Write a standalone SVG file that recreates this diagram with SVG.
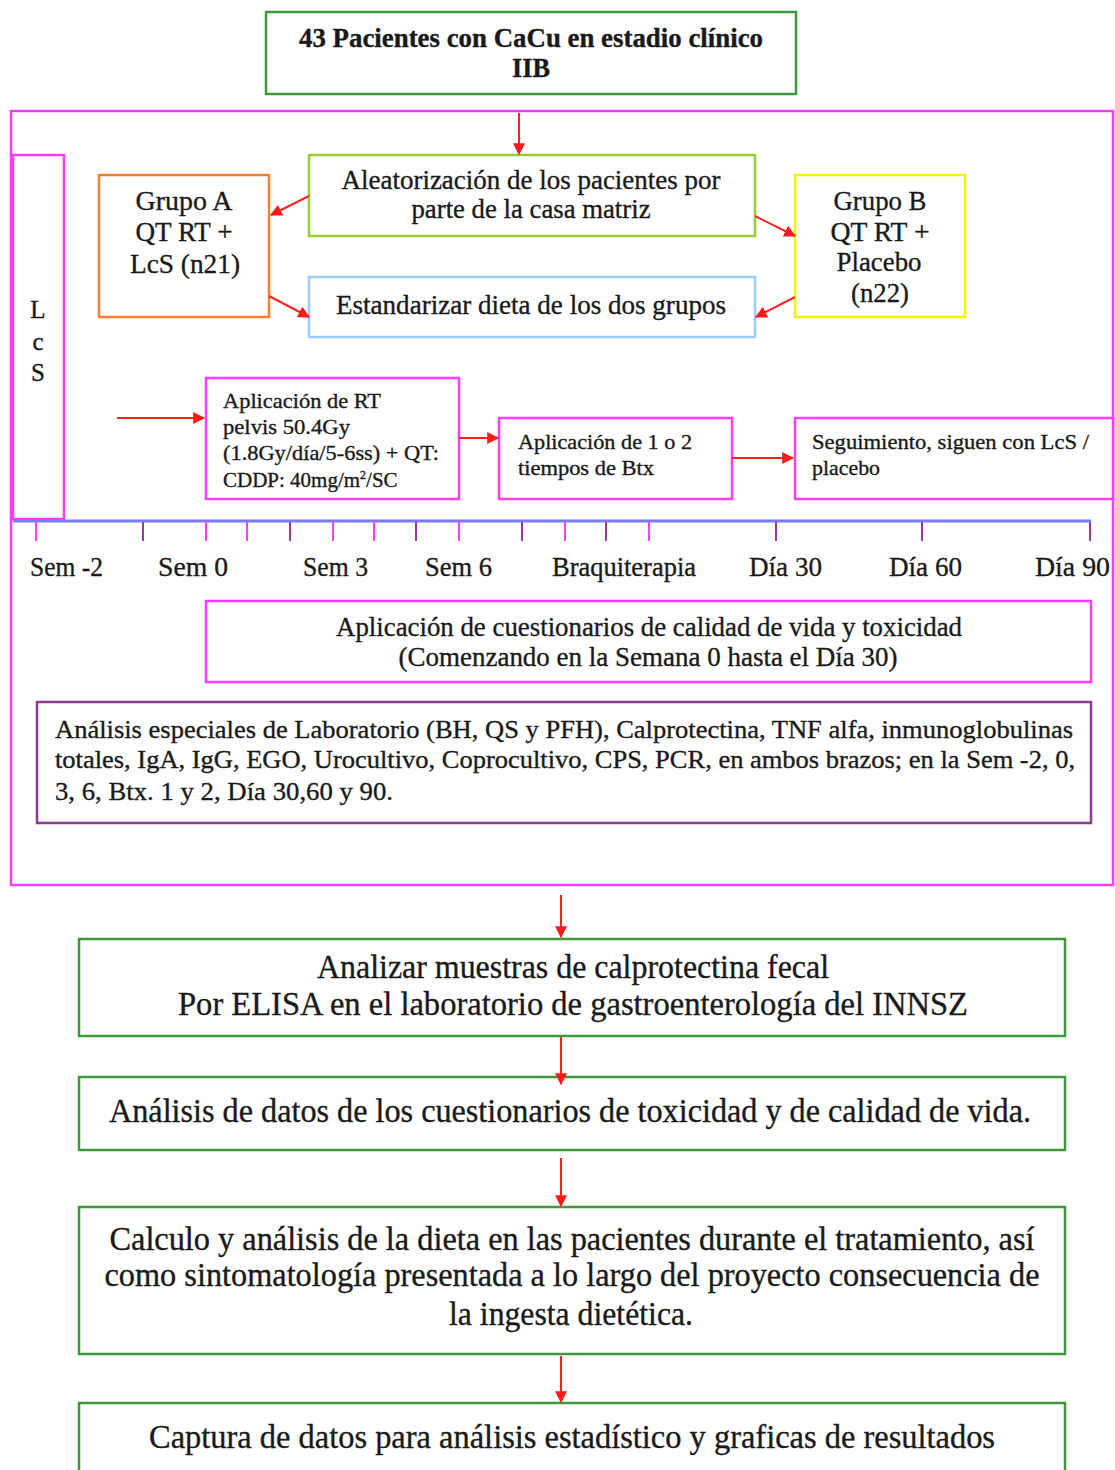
<svg xmlns="http://www.w3.org/2000/svg" width="1115" height="1470" viewBox="0 0 1115 1470">
<style>
text{font-family:"Liberation Serif","Times New Roman",serif;fill:#1a1a1a;stroke:#1a1a1a;stroke-width:0.35}
.box{fill:#fff;stroke-width:2.5}
.g{stroke:#3c9a3c}
.m{stroke:#ff3cff}
.c{text-anchor:middle}
.conn line{stroke:#ff2020;stroke-width:2;marker-end:url(#ah)}
.tm{stroke:#ff3cff;stroke-width:2}
.tp{stroke:#9a3c9a;stroke-width:2}
</style>
<defs>
<marker id="ah" viewBox="0 0 10 10" refX="9" refY="5" markerWidth="6" markerHeight="6" orient="auto" markerUnits="strokeWidth">
<path d="M0,0 L10,5 L0,10 z" fill="#ff1a1a"/>
</marker>
</defs>
<rect width="1115" height="1470" fill="#fff"/>

<g id="frame">
<rect x="11" y="111" width="1102" height="774" fill="none" stroke="#ff3cff" stroke-width="2.5"/>
</g>

<g id="n-top">
<rect class="box g" x="266" y="12" width="530" height="82"/>
<text class="c" x="531" y="47" font-size="27" font-weight="bold" textLength="464" lengthAdjust="spacingAndGlyphs">43 Pacientes con CaCu en estadio clínico</text>
<text class="c" x="531" y="77" font-size="27" font-weight="bold" textLength="38" lengthAdjust="spacingAndGlyphs">IIB</text>
</g>

<g id="n-lcs">
<rect class="box m" x="13" y="155" width="51" height="364"/>
<text class="c" x="38" y="318" font-size="25">L</text>
<text class="c" x="38" y="350" font-size="25">c</text>
<text class="c" x="38" y="381" font-size="25">S</text>
</g>

<g id="n-aleat">
<rect class="box" stroke="#99cc33" x="309" y="155" width="446" height="81"/>
<text class="c" x="531" y="189" font-size="27" textLength="379" lengthAdjust="spacingAndGlyphs">Aleatorización  de los pacientes  por</text>
<text class="c" x="531" y="218" font-size="27" textLength="239" lengthAdjust="spacingAndGlyphs">parte de la casa matriz</text>
</g>

<g id="n-grupoA">
<rect class="box" stroke="#ff7f2a" x="99" y="175" width="170" height="142"/>
<text class="c" x="184" y="210" font-size="28" textLength="97" lengthAdjust="spacingAndGlyphs">Grupo A</text>
<text class="c" x="184" y="241" font-size="28" textLength="97" lengthAdjust="spacingAndGlyphs">QT RT +</text>
<text class="c" x="185" y="273" font-size="28" textLength="110" lengthAdjust="spacingAndGlyphs">LcS (n21)</text>
</g>

<g id="n-grupoB">
<rect class="box" stroke="#f5f500" x="795" y="175" width="170" height="142"/>
<text class="c" x="880" y="210" font-size="28" textLength="93" lengthAdjust="spacingAndGlyphs">Grupo B</text>
<text class="c" x="880" y="241" font-size="28" textLength="99" lengthAdjust="spacingAndGlyphs">QT RT +</text>
<text class="c" x="879" y="271" font-size="28" textLength="85" lengthAdjust="spacingAndGlyphs">Placebo</text>
<text class="c" x="880" y="302" font-size="28" textLength="58" lengthAdjust="spacingAndGlyphs">(n22)</text>
</g>

<g id="n-estand">
<rect class="box" stroke="#99ccff" x="309" y="277" width="446" height="60"/>
<text class="c" x="531" y="314" font-size="27" textLength="390" lengthAdjust="spacingAndGlyphs">Estandarizar dieta de los dos grupos</text>
</g>

<g id="n-rt">
<rect class="box m" x="206" y="378" width="253" height="121"/>
<text x="223" y="408" font-size="21" textLength="158" lengthAdjust="spacingAndGlyphs">Aplicación de RT</text>
<text x="223" y="434" font-size="21" textLength="127" lengthAdjust="spacingAndGlyphs">pelvis 50.4Gy</text>
<text x="223" y="460" font-size="21" textLength="216" lengthAdjust="spacingAndGlyphs">(1.8Gy/día/5-6ss) + QT:</text>
<text x="223" y="487" font-size="21">CDDP: 40mg/m<tspan font-size="12" dy="-8">2</tspan><tspan dy="8">/SC</tspan></text>
</g>

<g id="n-btx">
<rect class="box m" x="499" y="418" width="233" height="81"/>
<text x="518" y="449" font-size="21" textLength="174" lengthAdjust="spacingAndGlyphs">Aplicación de 1  o 2</text>
<text x="518" y="475" font-size="21" textLength="136" lengthAdjust="spacingAndGlyphs">tiempos de Btx</text>
</g>

<g id="n-seguim">
<rect class="box m" x="795" y="418" width="318" height="81"/>
<text x="812" y="449" font-size="21" textLength="277" lengthAdjust="spacingAndGlyphs">Seguimiento, siguen con LcS /</text>
<text x="812" y="475" font-size="21" textLength="68" lengthAdjust="spacingAndGlyphs">placebo</text>
</g>

<g id="timeline">
<line x1="13" y1="521" x2="1091" y2="521" stroke="#7b7bff" stroke-width="3"/>
<line class="tm" x1="36" y1="522" x2="36" y2="541"/>
<line class="tp" x1="143" y1="522" x2="143" y2="541"/>
<line class="tm" x1="206" y1="522" x2="206" y2="541"/>
<line class="tm" x1="247" y1="522" x2="247" y2="541"/>
<line class="tp" x1="290" y1="522" x2="290" y2="541"/>
<line class="tm" x1="333" y1="522" x2="333" y2="541"/>
<line class="tm" x1="374" y1="522" x2="374" y2="541"/>
<line class="tp" x1="416" y1="522" x2="416" y2="541"/>
<line class="tm" x1="459" y1="522" x2="459" y2="541"/>
<line class="tp" x1="522" y1="522" x2="522" y2="541"/>
<line class="tm" x1="565" y1="522" x2="565" y2="541"/>
<line class="tp" x1="606" y1="522" x2="606" y2="541"/>
<line class="tm" x1="649" y1="522" x2="649" y2="541"/>
<line class="tp" x1="776" y1="522" x2="776" y2="541"/>
<line class="tp" x1="922" y1="522" x2="922" y2="541"/>
<line class="tp" x1="1090" y1="522" x2="1090" y2="541"/>
<text x="30" y="576" font-size="28" textLength="73" lengthAdjust="spacingAndGlyphs">Sem -2</text>
<text x="158" y="576" font-size="28" textLength="70" lengthAdjust="spacingAndGlyphs">Sem 0</text>
<text x="303" y="576" font-size="28" textLength="65" lengthAdjust="spacingAndGlyphs">Sem 3</text>
<text x="425" y="576" font-size="28" textLength="67" lengthAdjust="spacingAndGlyphs">Sem 6</text>
<text x="552" y="576" font-size="28" textLength="144" lengthAdjust="spacingAndGlyphs">Braquiterapia</text>
<text x="749" y="576" font-size="28" textLength="73" lengthAdjust="spacingAndGlyphs">Día 30</text>
<text x="889" y="576" font-size="28" textLength="73" lengthAdjust="spacingAndGlyphs">Día 60</text>
<text x="1035" y="576" font-size="28" textLength="75" lengthAdjust="spacingAndGlyphs">Día 90</text>
</g>

<g id="n-cuest">
<rect class="box m" x="206" y="601" width="885" height="81"/>
<text class="c" x="649" y="636" font-size="27" textLength="626" lengthAdjust="spacingAndGlyphs">Aplicación  de cuestionarios  de calidad de vida y toxicidad</text>
<text class="c" x="648" y="666" font-size="27" textLength="499" lengthAdjust="spacingAndGlyphs">(Comenzando en la Semana 0 hasta el Día 30)</text>
</g>

<g id="n-lab">
<rect class="box" stroke="#8e3a8e" x="37" y="702" width="1054" height="121"/>
<text x="55" y="738" font-size="26" textLength="1018" lengthAdjust="spacingAndGlyphs">Análisis especiales  de Laboratorio  (BH, QS y PFH), Calprotectina, TNF alfa, inmunoglobulinas</text>
<text x="55" y="768" font-size="26" textLength="1020" lengthAdjust="spacingAndGlyphs">totales, IgA, IgG, EGO, Urocultivo, Coprocultivo, CPS,  PCR, en  ambos brazos; en la Sem -2, 0,</text>
<text x="55" y="800" font-size="26" textLength="338" lengthAdjust="spacingAndGlyphs">3, 6, Btx. 1 y 2, Día 30,60 y 90.</text>
</g>

<g id="n-elisa">
<rect class="box g" x="79" y="939" width="986" height="97"/>
<text class="c" x="573" y="978" font-size="33" textLength="512" lengthAdjust="spacingAndGlyphs">Analizar muestras de calprotectina  fecal</text>
<text class="c" x="573" y="1015" font-size="33" textLength="790" lengthAdjust="spacingAndGlyphs">Por ELISA en el laboratorio de gastroenterología  del INNSZ</text>
</g>

<g id="n-datos">
<rect class="box g" x="79" y="1077" width="986" height="73"/>
<text class="c" x="570" y="1122" font-size="33" textLength="922" lengthAdjust="spacingAndGlyphs">Análisis de datos de los cuestionarios  de toxicidad  y de calidad  de vida.</text>
</g>

<g id="n-dieta">
<rect class="box g" x="79" y="1207" width="986" height="147"/>
<text class="c" x="572" y="1250" font-size="33" textLength="925" lengthAdjust="spacingAndGlyphs">Calculo y análisis  de la dieta  en las pacientes  durante el tratamiento,  así</text>
<text class="c" x="572" y="1286" font-size="33" textLength="935" lengthAdjust="spacingAndGlyphs">como sintomatología  presentada a lo largo  del proyecto consecuencia  de</text>
<text class="c" x="571" y="1325" font-size="33" textLength="244" lengthAdjust="spacingAndGlyphs">la ingesta dietética.</text>
</g>

<g id="n-captura">
<rect class="box g" x="79" y="1403" width="986" height="80"/>
<text class="c" x="572" y="1448" font-size="33" textLength="846" lengthAdjust="spacingAndGlyphs">Captura de datos para análisis estadístico  y graficas de  resultados</text>
</g>

<g id="connectors" class="conn">
<line x1="519" y1="113" x2="519" y2="154"/>
<line x1="309" y1="196" x2="271" y2="215"/>
<line x1="269" y1="296" x2="309" y2="317"/>
<line x1="755" y1="216" x2="795" y2="236"/>
<line x1="795" y1="297" x2="756" y2="317"/>
<line x1="117" y1="418" x2="204" y2="418"/>
<line x1="459" y1="438" x2="498" y2="438"/>
<line x1="732" y1="458" x2="793" y2="458"/>
<line x1="561" y1="895" x2="561" y2="937"/>
<line x1="561" y1="1037" x2="561" y2="1084"/>
<line x1="561" y1="1158" x2="561" y2="1206"/>
<line x1="561" y1="1356" x2="561" y2="1402"/>
</g>
</svg>
